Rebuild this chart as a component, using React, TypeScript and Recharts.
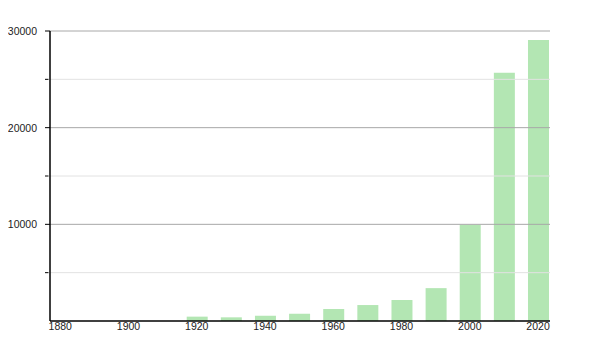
import React from "react";
import { BarChart, Bar, XAxis, YAxis, ReferenceLine } from "recharts";

const years = [1920, 1930, 1940, 1950, 1960, 1970, 1980, 1990, 2000, 2010, 2020];
const population = [450, 380, 550, 750, 1240, 1650, 2170, 3400, 9950, 25690, 29070];
const xTicks = [1880, 1900, 1920, 1940, 1960, 1980, 2000, 2020];
const yTicks = [0, 5000, 10000, 15000, 20000, 25000, 30000];
const majorLines = [10000, 20000, 30000];
const minorLines = [5000, 15000, 25000];

const data = years.map((y, i) => ({ year: y, value: population[i] }));

const font = "'Liberation Sans', Arial, sans-serif";

const YTick = (props: any) => {
  const { x, y, payload } = props;
  const v = payload.value;
  const major = v % 10000 === 0;
  if (v === 0) return null;
  return (
    <g>
      <line x1={x + 3} x2={x + (major ? 8 : 6.5)} y1={y} y2={y} stroke="#000" strokeWidth={1} />
      {major && (
        <text x={x - 5} y={y} dy={4} textAnchor="end" fontSize={10.5} fontFamily={font} fill="#222">
          {v}
        </text>
      )}
    </g>
  );
};

export default function App() {
  return (
    <BarChart
      width={600}
      height={350}
      data={data}
      margin={{ top: 23, right: 58, left: 0, bottom: 17 }}
    >
      {minorLines.map((v) => (
        <ReferenceLine key={"m" + v} y={v} stroke="#e2e2e2" strokeWidth={1} />
      ))}
      <XAxis
        dataKey="year"
        type="number"
        domain={[1877, 2023.5]}
        ticks={xTicks}
        allowDataOverflow
        tickLine={false}
        tickSize={0}
        axisLine={{ stroke: "#000", strokeWidth: 1.5 }}
        tick={{ fontSize: 10.5, fontFamily: font, fill: "#222" }}
        tickMargin={2}
        height={20}
        interval={0}
      />
      <YAxis
        type="number"
        domain={[0, 30000]}
        ticks={yTicks}
        width={42}
        tickLine={false}
        axisLine={{ stroke: "#000", strokeWidth: 1.5 }}
        tick={<YTick />}
        interval={0}
      />
      <Bar dataKey="value" fill="#b3e6b3" barSize={21} isAnimationActive={false} />
      {majorLines.map((v) => (
        <ReferenceLine key={"M" + v} y={v} stroke="#a8a8a8" strokeWidth={1} />
      ))}
    </BarChart>
  );
}
